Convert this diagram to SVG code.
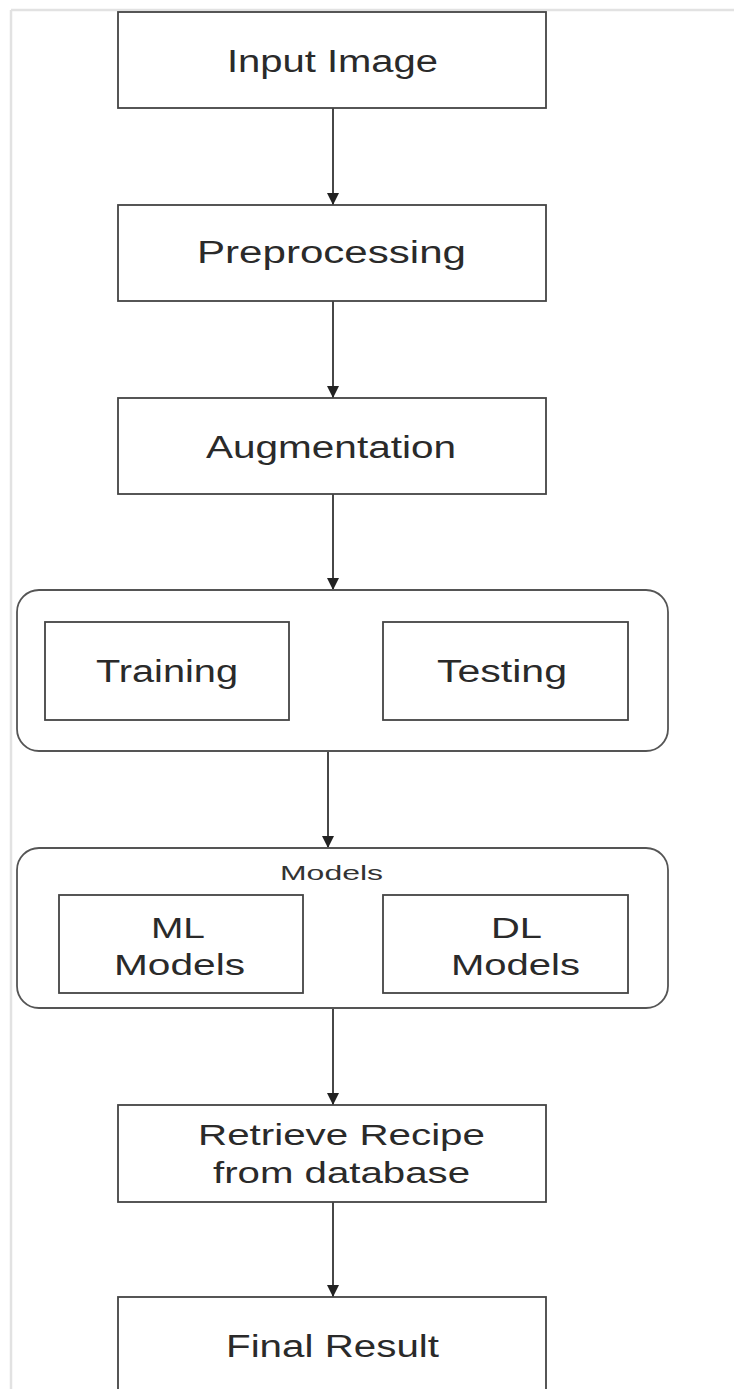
<svg xmlns="http://www.w3.org/2000/svg" width="734" height="1389" viewBox="0 0 734 1389">
  <style>
    .box { fill: #ffffff; stroke: #444444; stroke-width: 1.8; }
    .group { fill: #ffffff; stroke: #555555; stroke-width: 1.8; }
    .lbl { font-family: "Liberation Sans", Arial, sans-serif; font-size: 31px; fill: #2a2a2a; }
    .lbl2 { font-family: "Liberation Sans", Arial, sans-serif; font-size: 29px; fill: #2a2a2a; }
    .title { font-family: "Liberation Sans", Arial, sans-serif; font-size: 21px; fill: #333333; }
    .conn { stroke: #333333; stroke-width: 1.8; fill: none; marker-end: url(#arrow); }
    .frame { stroke: #e2e2e2; stroke-width: 2.5; fill: none; }
  </style>
  <defs>
    <marker id="arrow" markerWidth="12" markerHeight="14" refX="12" refY="7" orient="auto" markerUnits="userSpaceOnUse" viewBox="0 0 12 14">
      <path d="M0,1 L12,7 L0,13 Z" fill="#222222"/>
    </marker>
  </defs>
  <rect x="0" y="0" width="734" height="1389" fill="#ffffff"/>
  <g id="frame">
    <line class="frame" x1="11" y1="10" x2="11" y2="1389"/>
    <line class="frame" x1="11" y1="10" x2="734" y2="10"/>
  </g>

  <g id="connectors">
    <line class="conn" x1="333" y1="108" x2="333" y2="205"/>
    <line class="conn" x1="333" y1="301" x2="333" y2="398"/>
    <line class="conn" x1="333" y1="494" x2="333" y2="590"/>
    <line class="conn" x1="328" y1="751" x2="328" y2="848"/>
    <line class="conn" x1="333" y1="1008" x2="333" y2="1105"/>
    <line class="conn" x1="333" y1="1202" x2="333" y2="1297"/>
  </g>

  <g id="input-image">
    <rect class="box" x="118" y="12" width="428" height="96"/>
    <text class="lbl" x="227" y="72" textLength="211" lengthAdjust="spacingAndGlyphs">Input Image</text>
  </g>
  <g id="preprocessing">
    <rect class="box" x="118" y="205" width="428" height="96"/>
    <text class="lbl" x="197" y="263" textLength="269" lengthAdjust="spacingAndGlyphs">Preprocessing</text>
  </g>
  <g id="augmentation">
    <rect class="box" x="118" y="398" width="428" height="96"/>
    <text class="lbl" x="206" y="458" textLength="250" lengthAdjust="spacingAndGlyphs">Augmentation</text>
  </g>

  <g id="train-test-group">
    <rect class="group" x="17" y="590" width="651" height="161" rx="22" ry="22"/>
    <g id="training">
      <rect class="box" x="45" y="622" width="244" height="98"/>
      <text class="lbl" x="96" y="682" textLength="142" lengthAdjust="spacingAndGlyphs">Training</text>
    </g>
    <g id="testing">
      <rect class="box" x="383" y="622" width="245" height="98"/>
      <text class="lbl" x="437" y="682" textLength="130" lengthAdjust="spacingAndGlyphs">Testing</text>
    </g>
  </g>

  <g id="models-group">
    <rect class="group" x="17" y="848" width="651" height="160" rx="22" ry="22"/>
    <text class="title" x="280" y="880" textLength="103" lengthAdjust="spacingAndGlyphs">Models</text>
    <g id="ml-models">
      <rect class="box" x="59" y="895" width="244" height="98"/>
      <text class="lbl2" x="151" y="938" textLength="54" lengthAdjust="spacingAndGlyphs">ML</text>
      <text class="lbl2" x="114" y="975" textLength="131" lengthAdjust="spacingAndGlyphs">Models</text>
    </g>
    <g id="dl-models">
      <rect class="box" x="383" y="895" width="245" height="98"/>
      <text class="lbl2" x="491" y="938" textLength="51" lengthAdjust="spacingAndGlyphs">DL</text>
      <text class="lbl2" x="451" y="975" textLength="129" lengthAdjust="spacingAndGlyphs">Models</text>
    </g>
  </g>

  <g id="retrieve-recipe">
    <rect class="box" x="118" y="1105" width="428" height="97"/>
    <text class="lbl2" x="198" y="1145" textLength="287" lengthAdjust="spacingAndGlyphs">Retrieve Recipe</text>
    <text class="lbl2" x="213" y="1183" textLength="257" lengthAdjust="spacingAndGlyphs">from database</text>
  </g>

  <g id="final-result">
    <rect class="box" x="118" y="1297" width="428" height="110"/>
    <text class="lbl" x="226" y="1357" textLength="213" lengthAdjust="spacingAndGlyphs">Final Result</text>
  </g>
</svg>
